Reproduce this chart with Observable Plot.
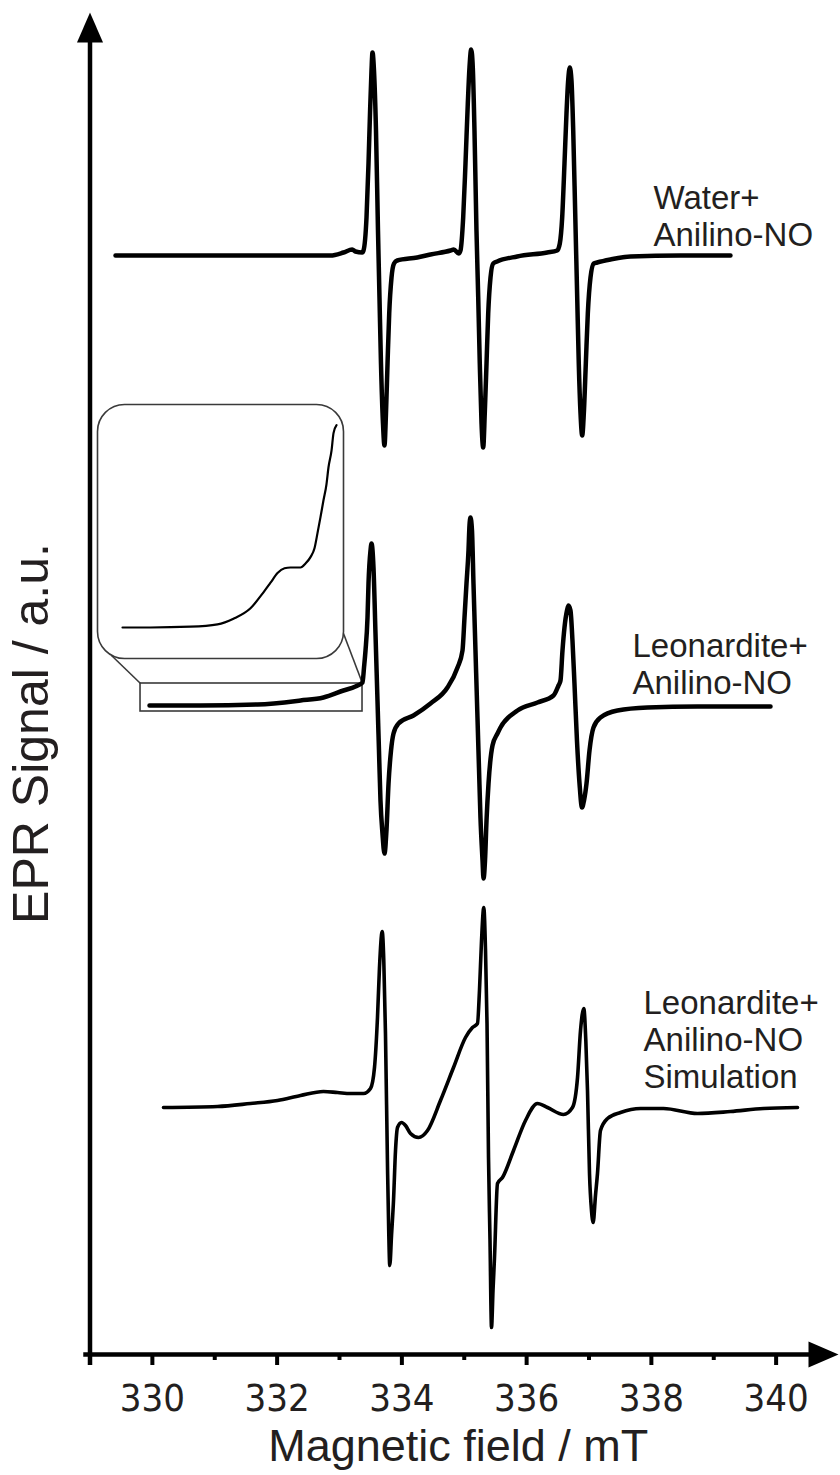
<!DOCTYPE html>
<html>
<head>
<meta charset="utf-8">
<script src="https://cdn.jsdelivr.net/npm/d3@7"></script>
<script src="https://cdn.jsdelivr.net/npm/@observablehq/plot@0.6"></script>
<style>
  body { margin: 0; background: #fff; }
  #chart { position: relative; width: 840px; height: 1475px; background: #fff; }
  #chart svg { position: absolute; overflow: visible; }
</style>
</head>
<body>
<div id="chart"></div>
<script>
// ---------- data (magnetic field in mT, EPR signal in a.u., offset stacked) ----------
const waterField = [329.409,330.772,332.375,332.856,333.064,333.204,333.256,333.364,333.385,333.433,333.465,333.489,333.513,333.529,333.553,333.585,333.617,333.641,333.665,333.697,333.721,333.745,333.770,333.797,333.834,333.874,333.925,334.246,334.459,334.780,334.832,334.913,334.940,334.983,335.020,335.057,335.084,335.111,335.137,335.164,335.196,335.224,335.249,335.277,335.304,335.329,335.357,335.384,335.421,335.464,335.528,335.849,336.330,336.490,336.532,336.570,336.607,336.639,336.666,336.692,336.719,336.747,336.779,336.811,336.836,336.864,336.891,336.917,336.949,336.981,337.024,337.077,337.131,337.345,337.665,338.467,339.268];
const waterSignal = [109.9,109.9,109.9,109.9,110.2,110.5,110.3,110.2,110.4,113.7,119.1,124.1,128.4,130.2,128.4,122.4,112.4,105.7,99.1,93.1,90.9,94.1,99.1,104.1,107.7,109.1,109.4,109.7,110.0,110.4,110.5,110.1,110.4,113.7,119.1,125.1,128.7,130.5,128.7,122.4,112.4,105.7,99.1,93.1,90.7,94.1,99.1,104.1,107.7,109.1,109.3,109.8,110.2,110.4,111.1,113.7,119.1,124.1,127.4,128.7,127.4,122.4,114.1,105.7,99.1,94.1,91.9,94.1,99.1,104.1,107.7,109.1,109.2,109.5,109.8,109.9,109.9];

const leoField = [329.954,330.772,331.685,332.375,332.743,333.064,333.256,333.369,333.393,333.417,333.449,333.465,333.497,333.513,333.545,333.577,333.609,333.633,333.657,333.689,333.721,333.753,333.786,333.826,333.866,333.946,334.186,334.459,334.731,334.892,334.972,335.004,335.036,335.068,335.084,335.100,335.124,335.148,335.180,335.212,335.236,335.260,335.293,335.309,335.333,335.357,335.389,335.453,335.533,335.581,335.854,336.174,336.431,336.511,336.543,336.575,336.607,336.647,336.671,336.703,336.735,336.767,336.807,336.848,336.888,336.920,336.960,337.008,337.072,337.184,337.457,337.938,338.739,339.910];
const leoSignal = [64.9,64.9,65.0,65.4,65.7,66.4,66.8,67.2,68.7,70.4,73.7,77.1,80.4,81.1,78.7,72.1,65.4,60.4,55.4,52.1,50.1,52.4,57.1,60.4,62.1,63.1,63.9,65.1,66.7,68.7,70.4,73.7,77.1,80.4,82.9,83.7,82.4,77.1,70.4,63.7,58.7,53.7,49.4,47.6,49.4,53.4,57.1,60.9,62.1,62.7,64.4,65.2,65.9,66.9,67.4,70.4,72.7,74.4,74.9,74.4,71.4,67.1,61.4,57.1,54.7,55.4,57.1,60.4,62.7,63.7,64.4,64.7,64.8,64.8];

const simField = [330.178,331.044,331.573,332.006,332.375,332.743,332.968,333.176,333.385,333.497,333.561,333.609,333.641,333.685,333.710,333.737,333.770,333.789,333.806,333.834,333.866,333.898,333.930,333.994,334.058,334.138,334.267,334.411,334.619,334.828,335.020,335.132,335.212,335.244,335.277,335.313,335.341,335.365,335.389,335.413,335.437,335.461,335.485,335.533,335.613,335.790,335.982,336.174,336.335,336.591,336.735,336.816,336.864,336.917,336.949,336.976,337.008,337.040,337.067,337.104,337.136,337.184,337.297,337.505,337.826,338.194,338.739,339.268,339.797,340.343];
const simSignal = [24.7,24.8,25.1,25.4,25.9,26.3,26.2,26.1,26.1,26.6,28.7,33.7,38.7,42.3,39.4,32.1,18.7,12.4,8.9,11.9,15.4,20.4,22.7,23.2,22.9,22.1,21.7,22.4,25.4,28.7,31.7,32.7,33.1,36.4,41.4,44.7,40.4,33.1,19.7,11.4,2.7,6.4,9.7,17.1,17.7,20.4,23.4,25.1,24.7,24.0,24.7,27.7,32.4,34.6,31.4,26.4,18.1,14.4,13.2,15.9,18.1,22.4,23.6,24.2,24.6,24.6,24.1,24.3,24.6,24.7];

// magnified view of the low-field wing of the Leonardite spectrum (inset)
const insetField = [329.954,330.403,331.044,331.477,331.733,332.006,332.214,332.327,332.439,332.551,332.647,332.808,332.888,332.968,333.032,333.080,333.128,333.176,333.224,333.256,333.305,333.337,333.385];
const insetSignal = [64.95,64.95,64.96,64.99,65.06,65.19,65.39,65.51,65.63,65.69,65.70,65.70,65.75,65.83,65.94,66.13,66.33,66.54,66.74,66.95,67.16,67.38,67.48];

const majorTicks = [330, 332, 334, 336, 338, 340];
const minorTicks = [331, 333, 335, 337, 339];

const labelTexts  = ["Water+\nAnilino-NO", "Leonardite+\nAnilino-NO", "Leonardite+\nAnilino-NO\nSimulation"];
const labelField  = [338.034, 337.697, 337.874];
const labelSignal = [117.2, 72.4, 36.7];

const xTitle = "Magnetic field / mT";
const yTitle = "EPR Signal / a.u.";

// zoom region (small box) and its connectors to the inset
const zoomBox = [{x1: 329.810, x2: 333.369, y1: 64.3, y2: 67.1}];
const connectors = [
  {x1: 329.345, y1: 69.9, x2: 329.810, y2: 67.1},
  {x1: 333.064, y1: 72.1, x2: 333.369, y2: 67.1}
];

// ---------- build ----------
const FONT = '"Liberation Sans", Arial, Helvetica, sans-serif';
const NARROW = '"Liberation Sans Narrow", "Arial Narrow", "DejaVu Sans Condensed", "Liberation Sans", sans-serif';
const TEXT = "#231f20";
const toRows = (xs, ys) => xs.map((x, i) => ({x, y: ys[i]}));
const water = toRows(waterField, waterSignal);
const leo = toRows(leoField, leoSignal);
const sim = toRows(simField, simSignal);
const insetRows = toRows(insetField, insetSignal);
const labels = labelTexts.map((t, i) => ({text: t, x: labelField[i], y: labelSignal[i]}));

const arrowHead = {
  draw(ctx) { ctx.moveTo(0, 0); ctx.lineTo(13, 30); ctx.lineTo(-13, 30); ctx.closePath(); }
};

const main = Plot.plot({
  width: 840,
  height: 1475,
  marginLeft: 89.5,
  marginRight: 2,
  marginTop: 12,
  marginBottom: 121,
  x: {domain: [329, 341]},
  y: {domain: [0, 134.2], axis: null},
  style: {fontFamily: FONT, color: "#000", background: "#fff"},
  marks: [
    // axes lines
    Plot.ruleY([{y: 0, x1: 328.9, x2: 340.7}], {y: "y", x1: "x1", x2: "x2", stroke: "#000", strokeWidth: 4.5}),
    Plot.ruleX([{x: 329, y1: -1.1, y2: 133}], {x: "x", y1: "y1", y2: "y2", stroke: "#000", strokeWidth: 4.5}),
    Plot.dot([{x: 329, y: 134.2}], {x: "x", y: "y", symbol: arrowHead, fill: "#000", stroke: "none"}),
    Plot.dot([{x: 341, y: 0}], {x: "x", y: "y", symbol: arrowHead, rotate: 90, fill: "#000", stroke: "none"}),
    Plot.axisX({ticks: majorTicks, tickSize: 11, tickPadding: 19, fontSize: 38, fontFamily: NARROW, strokeWidth: 4, stroke: "#000", fill: TEXT, tickFormat: d => String(d)}),
    Plot.axisX({ticks: minorTicks, tickSize: 6, strokeWidth: 4, stroke: "#000", tickFormat: () => ""}),
    Plot.text([xTitle], {frameAnchor: "bottom", lineAnchor: "bottom", dy: 106, dx: -6, fontSize: 45, fill: TEXT}),
    Plot.text([yTitle], {frameAnchor: "left", rotate: -90, lineAnchor: "middle", textAnchor: "middle", dx: -58, dy: 50, fontSize: 50, fill: TEXT}),
    // zoom box + connectors
    Plot.rect(zoomBox, {x1: "x1", x2: "x2", y1: "y1", y2: "y2", fill: "none", stroke: "#3a3a3a", strokeWidth: 1.6}),
    Plot.link(connectors, {x1: "x1", y1: "y1", x2: "x2", y2: "y2", stroke: "#3a3a3a", strokeWidth: 1.6}),
    // spectra
    Plot.line(water, {x: "x", y: "y", stroke: "#000", strokeWidth: 4.5, curve: "monotone-x", strokeLinejoin: "round", strokeLinecap: "round"}),
    Plot.line(leo, {x: "x", y: "y", stroke: "#000", strokeWidth: 4.5, curve: "monotone-x", strokeLinejoin: "round", strokeLinecap: "round"}),
    Plot.line(sim, {x: "x", y: "y", stroke: "#000", strokeWidth: 3.6, curve: "monotone-x", strokeLinejoin: "round", strokeLinecap: "round"}),
    // labels
    Plot.text(labels, {x: "x", y: "y", text: "text", textAnchor: "start", lineAnchor: "top", fontSize: 33, lineHeight: 1.12, fill: TEXT})
  ]
});
main.style.left = "0px";
main.style.top = "0px";

const inset = Plot.plot({
  width: 248,
  height: 256,
  margin: 1,
  x: {domain: [329.553, 333.497], axis: null},
  y: {domain: [64.5625, 67.7375], axis: null},
  style: {fontFamily: FONT, background: "transparent"},
  marks: [
    Plot.frame({rx: 27, ry: 27, stroke: "#3a3a3a", strokeWidth: 1.6, fill: "none"}),
    Plot.line(insetRows, {x: "x", y: "y", stroke: "#000", strokeWidth: 2.2, curve: "monotone-x", strokeLinejoin: "round"})
  ]
});
inset.style.left = "96px";
inset.style.top = "403px";

const chart = document.getElementById("chart");
chart.appendChild(main);
chart.appendChild(inset);
</script>
</body>
</html>
